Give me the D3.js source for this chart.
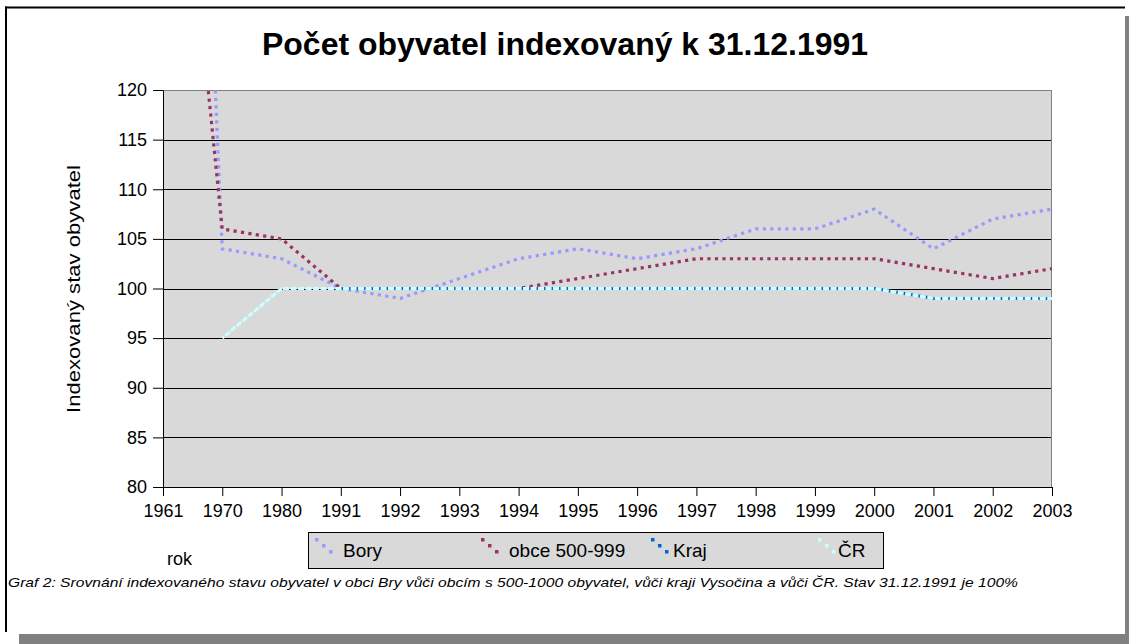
<!DOCTYPE html>
<html>
<head>
<meta charset="utf-8">
<script src="https://cdn.jsdelivr.net/npm/d3@7"></script>
<style>
  body { margin: 0; background: #fff; }
  svg { display: block; font-family: "Liberation Sans", Arial, sans-serif; }
</style>
</head>
<body>
<script>
// chart data
var years = ["1961", "1970", "1980", "1991", "1992", "1993", "1994", "1995", "1996",
             "1997", "1998", "1999", "2000", "2001", "2002", "2003"];
var bory = [240, 104, 103, 100, 99, 101, 103, 104, 103, 104, 106, 106, 108, 104, 107, 108];
var obce = [165, 106, 105, 100, 100, 100, 100, 101, 102, 103, 103, 103, 103, 102, 101, 102];
var kraj = [null, null, null, 100, 100, 100, 100, 100, 100, 100, 100, 100, 100, 99, 99, 99];
var cr = [null, 95, 100, 100, 100, 100, 100, 100, 100, 100, 100, 100, 100, 99, 99, 99];
var seriesNames = ["Bory", "obce 500-999", "Kraj", "ČR"];
var yTicks = [80, 85, 90, 95, 100, 105, 110, 115, 120];

var W = 1129, H = 644;
var margin = {top: 90, right: 77, bottom: 157, left: 163};
var w = W - margin.left - margin.right;   // 889
var h = H - margin.top - margin.bottom;   // 397

var svg = d3.select("body").append("svg")
  .attr("width", W)
  .attr("height", H);

// frame with shadow like the word document
svg.append("rect").attr("x", 19).attr("y", 634).attr("width", W - 19).attr("height", 10).attr("fill", "#808080");
svg.append("rect").attr("x", 1125).attr("y", 16).attr("width", 4).attr("height", 628).attr("fill", "#808080");
svg.append("line").attr("x1", 5).attr("x2", 1125).attr("y1", 7.5).attr("y2", 7.5)
  .attr("stroke", "#000").attr("stroke-width", 2);
svg.append("line").attr("x1", 6).attr("x2", 6).attr("y1", 6.5).attr("y2", 632)
  .attr("stroke", "#000").attr("stroke-width", 2);

// title
svg.append("text")
  .attr("x", 565).attr("y", 55)
  .attr("text-anchor", "middle")
  .attr("font-size", "31px")
  .attr("font-weight", "bold")
  .attr("textLength", 606)
  .attr("lengthAdjust", "spacingAndGlyphs")
  .text("Počet obyvatel indexovaný k 31.12.1991");

var g = svg.append("g").attr("transform", "translate(" + margin.left + "," + margin.top + ")");

var xScale = d3.scalePoint().domain(years).range([0, w]);
var yScale = d3.scaleLinear().domain([80, 120]).range([h, 0]);

// plot background
g.append("rect").attr("width", w).attr("height", h).attr("fill", "#d9d9d9");

// gridlines
g.selectAll(".grid")
  .data(yTicks.filter(function(d) { return d > 80 && d < 120; }))
  .enter().append("line")
  .attr("x1", 0).attr("x2", w)
  .attr("y1", function(d) { return Math.round(yScale(d)) + 0.5; })
  .attr("y2", function(d) { return Math.round(yScale(d)) + 0.5; })
  .attr("stroke", "#000");

// plot border (top and right are gray)
g.append("line").attr("x1", 0).attr("x2", w).attr("y1", 0.5).attr("y2", 0.5).attr("stroke", "#808080");
g.append("line").attr("x1", w - 0.5).attr("x2", w - 0.5).attr("y1", 0).attr("y2", h).attr("stroke", "#808080");

// axes
var yAxis = d3.axisLeft(yScale).tickValues(yTicks).tickSize(10).tickPadding(6);
var yG = g.append("g").call(yAxis);
yG.select(".domain").attr("stroke", "#000");
yG.selectAll("text").attr("font-size", "18px").attr("font-family", "Liberation Sans, Arial, sans-serif").attr("fill", "#000");

var xAxis = d3.axisBottom(xScale).tickSize(9).tickPadding(8).tickSizeOuter(0);
var xG = g.append("g").attr("transform", "translate(0," + h + ")").call(xAxis);
xG.select(".domain").attr("stroke", "#000");
xG.selectAll("text").attr("font-size", "18px").attr("font-family", "Liberation Sans, Arial, sans-serif").attr("fill", "#000");

// clip for the lines
g.append("clipPath").attr("id", "plotclip")
  .append("rect").attr("width", w).attr("height", h);

var line = d3.line()
  .defined(function(d) { return d != null; })
  .x(function(d, i) { return xScale(years[i]); })
  .y(function(d) { return yScale(d); });

var lines = g.append("g").attr("clip-path", "url(#plotclip)");

lines.append("path").datum(bory)
  .attr("d", line).attr("fill", "none")
  .attr("stroke", "#9999ff").attr("stroke-width", 3.2).attr("stroke-dasharray", "3.2,4.3");

lines.append("path").datum(obce)
  .attr("d", line).attr("fill", "none")
  .attr("stroke", "#993366").attr("stroke-width", 3.2).attr("stroke-dasharray", "3.2,4.3");

lines.append("path").datum(kraj)
  .attr("d", line).attr("fill", "none")
  .attr("stroke", "#0066cc").attr("stroke-width", 3).attr("stroke-dasharray", "3,4.5");

// align the ČR gaps with the Kraj dots where both run together
var krStart = kraj.findIndex(function(d) { return d != null; });
var tmp = g.append("path").attr("d", line(cr.slice(0, krStart + 1)));
var L = tmp.node().getTotalLength();
tmp.remove();
var off = ((5.25 - L) % 7.5 + 7.5) % 7.5;

lines.append("path").datum(cr)
  .attr("d", line).attr("fill", "none")
  .attr("stroke", "#ccffff").attr("stroke-width", 3).attr("stroke-dasharray", "6,1.5")
  .attr("stroke-dashoffset", off);

// axis titles
svg.append("text")
  .attr("transform", "translate(80,289) rotate(-90)")
  .attr("text-anchor", "middle")
  .attr("font-size", "19px")
  .attr("textLength", 248)
  .attr("lengthAdjust", "spacingAndGlyphs")
  .text("Indexovaný stav obyvatel");

svg.append("text")
  .attr("x", 167).attr("y", 565)
  .attr("font-size", "18px")
  .text("rok");

// legend
var legend = svg.append("g");
legend.append("rect")
  .attr("x", 308.5).attr("y", 532.5).attr("width", 575).attr("height", 36)
  .attr("fill", "#d9d9d9").attr("stroke", "#000");

var legColors = ["#9999ff", "#993366", "#0066cc", "#ccffff"];
var legX = [315, 481, 651, 818];
var legTextX = [343, 509, 673, 838];

seriesNames.forEach(function(name, i) {
  for (var k = 0; k < 3; k++) {
    legend.append("rect")
      .attr("x", legX[i] + k * 7).attr("y", 538 + k * 6)
      .attr("width", 3.5).attr("height", 3.5)
      .attr("fill", legColors[i]);
  }
  legend.append("text")
    .attr("x", legTextX[i]).attr("y", 557)
    .attr("font-size", "19px")
    .text(name);
});

// caption
svg.append("text")
  .attr("x", 8).attr("y", 587)
  .attr("font-size", "13.5px")
  .attr("font-style", "italic")
  .attr("textLength", 1010)
  .attr("lengthAdjust", "spacingAndGlyphs")
  .text("Graf 2: Srovnání indexovaného stavu obyvatel v obci Bry vůči obcím s 500-1000 obyvatel, vůči kraji Vysočina a vůči ČR. Stav 31.12.1991 je 100%");
</script>
</body>
</html>
